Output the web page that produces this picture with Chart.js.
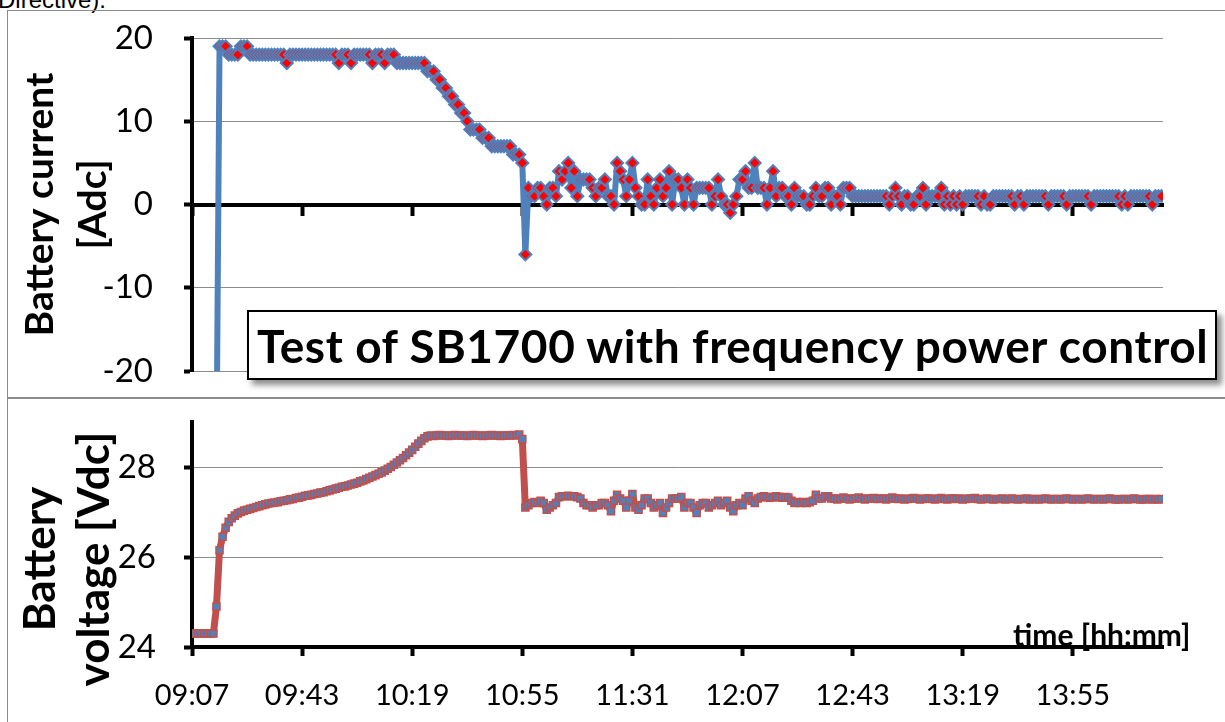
<!DOCTYPE html>
<html><head><meta charset="utf-8">
<script src="https://cdn.jsdelivr.net/npm/chart.js@4.4.0/dist/chart.umd.min.js"></script>
<style>
html,body{margin:0;padding:0;background:#fff;}
body{width:1225px;height:722px;position:relative;overflow:hidden;font-family:Lato,sans-serif;}
#note{position:absolute;left:-2px;top:-14px;font:24px "Liberation Sans",Arial,sans-serif;color:#000;white-space:nowrap;}
.frame{position:absolute;border:1.5px solid #8c8c8c;}
#f1{left:7px;top:10px;width:1240px;height:387px;}
#f2{left:7px;top:397px;width:1240px;height:400px;}
canvas{position:absolute;left:0;}
#c1{top:0;}
#c2{top:398px;}
#tbox{position:absolute;left:247px;top:310px;width:970px;height:70px;box-sizing:border-box;border:2px solid #000;background:#fff;box-shadow:5px 5px 6px rgba(0,0,0,0.45);display:flex;align-items:center;padding-left:8px;font:bold 46px Lato,sans-serif;letter-spacing:0.6px;white-space:nowrap;color:#000;}
#tlabel{position:absolute;left:1013px;top:616px;font:bold 30px Lato,sans-serif;color:#000;white-space:nowrap;}
</style>
</head>
<body>
<div id="note">Directive).</div>
<div class="frame" id="f1"></div>
<div class="frame" id="f2"></div>
<canvas id="c1" width="1225" height="398"></canvas>
<canvas id="c2" width="1225" height="324"></canvas>
<div id="tbox">Test of SB1700 with frequency power control</div>
<div id="tlabel">time [hh:mm]</div>
<script>
// sample interval: 1 minute, starting 09:07
const sampleStepMin = 1;
const tickMinutes = [0, 36, 72, 108, 144, 180, 216, 252, 288];
const tickLabels = ['09:07', '09:43', '10:19', '10:55', '11:31', '12:07', '12:43', '13:19', '13:55'];
const currentTicks = [-20, -10, 0, 10, 20];
const voltageTicks = [24, 26, 28];
const currentTitle = ['Battery current', '[Adc]'];
const voltageTitle = ['Battery', 'voltage [Vdc]'];

// Battery current [Adc], one value per minute
const batteryCurrent = [
  null,null,null,null,null,null,null,null,-30,19,
  19,19,18,18,18,18,19,19,19,18,
  18,18,18,18,18,18,18,18,18,18,
  18,17,18,18,18,18,18,18,18,18,
  18,18,18,18,18,18,18,18,17,18,
  18,18,17,18,18,18,18,18,18,17,
  18,18,18,17,18,18,18,17,17,17,
  17,17,17,17,17,17,17,16,16,16,
  15,15,14,14,13,13,12,12,11,11,
  10,9,9,9,9,8,8,8,7,7,
  7,7,7,7,7,6,6,6,5,-6,
  2,1,1,2,2,1,0,2,2,1,
  4,3,4,5,2,4,1,3,3,3,
  3,2,1,2,2,3,1,1,0,5,
  4,3,1,3,5,2,1,0,0,3,
  1,0,2,3,1,2,4,0,3,3,
  2,0,3,2,0,2,2,2,2,2,
  0,1,3,1,0,0,-1,0,1,3,
  3,4,2,2,5,2,2,2,0,2,
  4,1,2,2,1,1,0,2,1,1,
  1,0,0,1,2,1,1,2,2,0,
  1,1,0,2,2,2,1,1,1,1,
  1,1,1,1,1,1,1,1,0,1,
  2,1,0,1,1,0,0,1,1,2,
  0,1,1,1,1,2,0,1,0,1,
  0,1,0,1,1,1,1,1,0,1,
  0,0,1,1,1,1,1,1,1,0,
  1,1,0,1,1,1,1,1,1,1,
  0,1,1,1,1,1,0,1,1,1,
  1,1,1,1,0,1,1,1,1,1,
  1,1,1,1,0,1,0,1,1,1,
  1,1,1,1,0,1,1,1
];

// Battery voltage [Vdc], one value per minute
const batteryVoltage = [
  24.3,24.3,24.3,24.3,24.3,24.3,24.3,24.3,24.9,26.15,
  26.45,26.65,26.78,26.86,26.92,26.97,27.0,27.03,27.05,27.07,
  27.09,27.11,27.13,27.15,27.17,27.19,27.2,27.21,27.22,27.24,
  27.25,27.26,27.28,27.29,27.31,27.32,27.34,27.36,27.37,27.38,
  27.4,27.41,27.43,27.44,27.46,27.48,27.5,27.52,27.54,27.56,
  27.57,27.59,27.61,27.63,27.65,27.68,27.7,27.73,27.76,27.79,
  27.82,27.85,27.88,27.92,27.96,28.0,28.05,28.1,28.15,28.2,
  28.26,28.32,28.38,28.45,28.52,28.58,28.64,28.68,28.7,28.69,
  28.7,28.71,28.7,28.7,28.69,28.7,28.71,28.7,28.7,28.7,
  28.69,28.7,28.71,28.7,28.7,28.69,28.7,28.7,28.71,28.7,
  28.7,28.69,28.7,28.7,28.7,28.71,28.7,28.72,28.62,27.1,
  27.15,27.2,27.22,27.2,27.25,27.2,27.05,27.1,27.15,27.2,
  27.33,27.35,27.35,27.36,27.35,27.35,27.33,27.3,27.2,27.15,
  27.15,27.1,27.15,27.15,27.2,27.2,27.15,27.02,27.25,27.38,
  27.3,27.25,27.1,27.25,27.4,27.1,27.05,27.15,27.3,27.3,
  27.2,27.1,27.15,27.2,26.98,27.1,27.2,27.3,27.3,27.3,
  27.33,27.1,27.2,27.2,27.1,26.98,27.15,27.2,27.2,27.1,
  27.15,27.2,27.25,27.15,27.2,27.25,27.1,27.02,27.15,27.2,
  27.15,27.3,27.35,27.25,27.2,27.3,27.33,27.35,27.33,27.32,
  27.33,27.35,27.33,27.32,27.33,27.32,27.25,27.2,27.22,27.2,
  27.22,27.2,27.22,27.25,27.38,27.3,27.3,27.35,27.35,27.3,
  27.3,27.28,27.3,27.32,27.3,27.28,27.3,27.3,27.32,27.3,
  27.28,27.3,27.3,27.31,27.29,27.3,27.3,27.28,27.3,27.32,
  27.3,27.29,27.3,27.28,27.29,27.3,27.31,27.3,27.28,27.29,
  27.3,27.3,27.29,27.28,27.3,27.31,27.29,27.28,27.3,27.3,
  27.29,27.3,27.28,27.29,27.3,27.3,27.31,27.29,27.28,27.29,
  27.3,27.29,27.28,27.29,27.29,27.3,27.28,27.29,27.3,27.29,
  27.28,27.29,27.29,27.3,27.28,27.29,27.29,27.28,27.29,27.3,
  27.29,27.28,27.29,27.29,27.28,27.29,27.3,27.29,27.28,27.29,
  27.29,27.28,27.29,27.3,27.29,27.28,27.29,27.29,27.28,27.29,
  27.3,27.29,27.28,27.28,27.29,27.29,27.28,27.29,27.3,27.29,
  27.28,27.28,27.29,27.29,27.28,27.29,27.28,27.29
];

const xMax = 317.5;
const toPoints = arr => arr.map((v, i) => ({x: i * sampleStepMin, y: v}));
const setTicks = list => scale => { scale.ticks = list.map(v => ({value: v})); };
const fixYAxis = scale => { scale.width = 192; scale.paddingTop = 0; scale.paddingBottom = 0; };
const common = {
  responsive: false, animation: false, events: [],
  plugins: {legend: {display: false}, tooltip: {enabled: false}}
};
const tickFont = {family: 'Lato', size: 33};
const titleFont = {family: 'Lato', size: 39, weight: 'bold', lineHeight: 1.35};

// rotated two-line axis title for the voltage panel (centred a little below the plot middle, as in the original)
const voltageTitlePlugin = {
  id: 'voltageTitle',
  afterDraw(chart) {
    const {ctx, chartArea} = chart;
    ctx.save();
    ctx.translate(0, chartArea.bottom - 88);
    ctx.rotate(-Math.PI / 2);
    ctx.font = 'bold 44px Lato';
    ctx.fillStyle = '#000';
    ctx.textAlign = 'center';
    ctx.textBaseline = 'middle';
    voltageTitle.forEach((line, i) => ctx.fillText(line, 0, 41 + i * 54));
    ctx.restore();
  }
};

new Chart(document.getElementById('c1'), {
  type: 'line',
  data: {datasets: [{
    data: toPoints(batteryCurrent),
    borderColor: '#4F81BD', borderWidth: 6, borderJoinStyle: 'round', borderCapStyle: 'round',
    pointStyle: 'rectRot', pointRadius: 6, pointBackgroundColor: '#FF0000',
    pointBorderColor: '#4F81BD', pointBorderWidth: 2, tension: 0, spanGaps: false
  }]},
  options: {
    ...common,
    layout: {padding: {left: 0, right: 62, top: 38, bottom: 27}},
    scales: {
      x: {
        type: 'linear', min: 0, max: xMax, position: {y: 0},
        afterBuildTicks: setTicks(tickMinutes),
        afterFit: s => { s.height = 0; },
        ticks: {display: false},
        grid: {drawOnChartArea: false, tickLength: 9, tickWidth: 4, tickColor: '#000'},
        border: {display: true, color: '#000', width: 4}
      },
      y: {
        type: 'linear', min: -20, max: 20,
        afterBuildTicks: setTicks(currentTicks),
        afterFit: fixYAxis,
        ticks: {padding: 31, color: '#000', font: tickFont},
        grid: {color: '#8c8c8c', lineWidth: 1, tickLength: 8, tickWidth: 4, tickColor: '#000'},
        border: {color: '#000', width: 4},
        title: {display: true, text: currentTitle, color: '#000', font: titleFont, padding: {top: 14, bottom: 0}}
      }
    }
  }
});

new Chart(document.getElementById('c2'), {
  type: 'line',
  data: {datasets: [{
    data: toPoints(batteryVoltage),
    borderColor: '#C0504D', borderWidth: 7, borderJoinStyle: 'round', borderCapStyle: 'round',
    pointStyle: 'rect', pointRadius: 5, pointBackgroundColor: '#4F81BD',
    pointBorderColor: '#C0504D', pointBorderWidth: 1.5, tension: 0
  }]},
  options: {
    ...common,
    layout: {padding: {left: 0, right: 62, top: 24, bottom: 0}},
    scales: {
      x: {
        type: 'linear', min: 0, max: xMax, position: 'bottom',
        afterBuildTicks: setTicks(tickMinutes),
        afterFit: s => { s.height = 75; },
        ticks: {padding: 22, color: '#000', font: {family: 'Lato', size: 29}, maxRotation: 0, autoSkip: false,
                callback: (v, i) => tickLabels[i]},
        grid: {drawOnChartArea: false, tickLength: 9, tickWidth: 4, tickColor: '#000'},
        border: {color: '#000', width: 4}
      },
      y: {
        type: 'linear', min: 24, max: 29,
        afterBuildTicks: setTicks(voltageTicks),
        afterFit: fixYAxis,
        ticks: {padding: 28, color: '#000', font: tickFont},
        grid: {color: '#8c8c8c', lineWidth: 1, tickLength: 8, tickWidth: 4, tickColor: '#000'},
        border: {color: '#000', width: 4},
        title: {display: false}
      }
    }
  },
  plugins: [voltageTitlePlugin]
});
</script>
</body></html>
